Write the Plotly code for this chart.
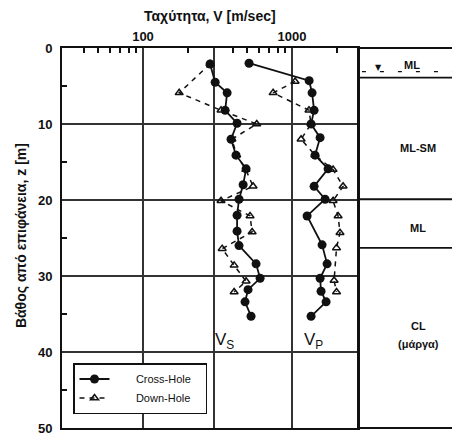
import plotly.graph_objects as go

# ---- data ----
vs_cross_depth = [2.1, 4.5, 5.9, 8.2, 9.9, 12.0, 14.1, 15.9, 18.0, 19.9, 22.0, 24.1, 26.0, 28.4, 30.3, 31.8, 33.4, 35.3]
vs_cross_vel = [282, 305, 367, 356, 428, 390, 421, 492, 470, 441, 428, 428, 441, 574, 611, 507, 484, 531]

vs_down_depth = [2.1, 5.9, 8.2, 10.0, 12.0, 14.1, 16.0, 18.2, 20.1, 22.1, 24.2, 26.4, 28.6, 30.7, 32.1]
vs_down_vel = [282, 175, 334, 580, 395, 425, 490, 548, 334, 523, 540, 340, 409, 492, 409]

vp_cross_depth = [2.0, 4.3, 5.9, 8.2, 10.0, 11.8, 14.1, 15.9, 18.2, 19.9, 22.1, 25.9, 28.4, 30.3, 32.0, 33.4, 35.3]
vp_cross_vel = [515, 1303, 1364, 1407, 1343, 1544, 1428, 1747, 1407, 1668, 1263, 1592, 1720, 1544, 1567, 1694, 1343]

vp_down_depth = [4.4, 5.9, 8.2, 10.0, 12.0, 14.1, 16.0, 18.2, 20.1, 22.1, 24.3, 26.3, 30.6, 32.1]
vp_down_vel = [1049, 747, 1300, 1343, 1151, 1428, 1887, 2202, 1887, 2039, 2100, 1990, 1917, 1990]

x_tick_vals = [100, 300, 1000]
x_tick_text = ["100", " ", "1000"]
x_minor_vals = [40, 50, 60, 70, 80, 90, 200, 400, 500, 600, 700, 800, 900, 2000]
y_tick_vals = [0, 10, 20, 30, 40, 50]
y_minor_vals = [5, 15, 25, 35, 45]

layer_bounds = [3.9, 19.9, 26.3]
water_table = 3.1
layer_labels = [("ML-SM", 13.2), ("ML", 23.7), ("CL", 36.6), ("(μάργα)", 38.9)]

FONT = "Liberation Sans"
BLACK = "#111111"
XDOM = (358 - 62) / 393
PAD = "\u00a0" * 7
TAIL = "\u00a0" * 3

fig = go.Figure()

cross_style = dict(mode="lines+markers", line=dict(color=BLACK, width=1.8),
                   marker=dict(symbol="circle", size=9, color=BLACK))
down_style = dict(mode="lines+markers", line=dict(color=BLACK, width=1.5, dash="5px,5px"),
                  marker=dict(symbol="triangle-up-open", size=7, color=BLACK, line=dict(width=1.5, color=BLACK)))

fig.add_trace(go.Scatter(x=vs_cross_vel, y=vs_cross_depth, name=PAD + "Cross-Hole" + TAIL, **cross_style))
fig.add_trace(go.Scatter(x=vs_down_vel, y=vs_down_depth, name=PAD + "Down-Hole" + TAIL, **down_style))
fig.add_trace(go.Scatter(x=vp_cross_vel, y=vp_cross_depth, name="Cross-Hole", showlegend=False, **cross_style))
fig.add_trace(go.Scatter(x=vp_down_vel, y=vp_down_depth, name="Down-Hole", showlegend=False, **down_style))

# page body has an 8px default margin, so the figure is placed at (8, 8)
fig.update_layout(
    width=452, height=426,
    margin=dict(l=54, r=5, t=40, b=6, autoexpand=False),
    paper_bgcolor="white", plot_bgcolor="white",
    font=dict(family=FONT, color=BLACK, size=11),
    showlegend=True,
    legend=dict(x=0.028, y=0.171, xanchor="left", yanchor="top",
                bordercolor=BLACK, borderwidth=1.5, bgcolor="white",
                font=dict(size=11, family=FONT), tracegroupgap=4),
    xaxis=dict(type="log", domain=[0, XDOM], range=[1.4564, 3.443], side="top",
               automargin=False,
               tickmode="array", tickvals=x_tick_vals, ticktext=x_tick_text,
               ticks="", showgrid=True, gridcolor="#333333", gridwidth=1.5,
               showline=True, linecolor=BLACK, linewidth=2, mirror=True,
               tickfont=dict(size=13, family=FONT, weight="bold"),
               minor=dict(tickmode="array", tickvals=x_minor_vals, ticks="inside",
                          ticklen=5, tickwidth=1.5, tickcolor=BLACK, showgrid=False),
               zeroline=False),
    yaxis=dict(range=[50, 0], tickmode="array", tickvals=y_tick_vals,
               automargin=False, ticklabeloverflow="allow",
               ticks="", showgrid=True, gridcolor="#333333", gridwidth=1.5,
               showline=True, linecolor=BLACK, linewidth=2, mirror=True,
               tickfont=dict(size=13, family=FONT, weight="bold"),
               ticklabelstandoff=5,
               minor=dict(tickmode="array", tickvals=y_minor_vals, ticks="inside",
                          ticklen=5, tickwidth=1.5, tickcolor=BLACK, showgrid=False),
               zeroline=False),
)

shapes = [dict(type="rect", xref="paper", yref="paper", x0=XDOM, x1=1, y0=0, y1=1,
               line=dict(color=BLACK, width=2))]
for d in layer_bounds:
    shapes.append(dict(type="line", xref="paper", yref="y", x0=XDOM, x1=1, y0=d, y1=d,
                       line=dict(color=BLACK, width=1.8)))
shapes.append(dict(type="line", xref="paper", yref="y", x0=XDOM + 0.01, x1=1.01,
                   y0=water_table, y1=water_table, line=dict(color=BLACK, width=1.2, dash="4px,14px")))
fig.update_layout(shapes=shapes)

ann = []
soil_x = (418 - 62) / 393
ann.append(dict(xref="paper", yref="y", x=(378 - 62) / 393, y=2.5, text="▼", showarrow=False,
                xanchor="center", font=dict(size=8, family="DejaVu Sans")))
ann.append(dict(xref="paper", yref="y", x=(412 - 62) / 393, y=2.2, text="ML", showarrow=False,
                xanchor="center", font=dict(size=11, family=FONT, weight="bold")))
for txt, d in layer_labels:
    ann.append(dict(xref="paper", yref="y", x=soil_x, y=d, text=txt, showarrow=False,
                    xanchor="center", font=dict(size=11, family=FONT, weight="bold")))
ann.append(dict(xref="paper", yref="paper", x=XDOM / 2, y=1 + 32 / 380, text="Ταχύτητα, V [m/sec]",
                showarrow=False, xanchor="center", yanchor="middle",
                font=dict(size=14, family=FONT, weight="bold")))
ann.append(dict(xref="paper", yref="paper", x=(21 - 62) / 393, y=0.505, text="Βάθος από επιφάνεια, z [m]",
                showarrow=False, textangle=-90, xanchor="center", yanchor="middle",
                font=dict(size=14, family=FONT, weight="bold")))
ann.append(dict(xref="x", yref="y", x=2.545, y=38.5, text="V<sub>S</sub>", showarrow=False,
                font=dict(size=17, family=FONT)))
ann.append(dict(xref="x", yref="y", x=3.145, y=38.5, text="V<sub>P</sub>", showarrow=False,
                font=dict(size=17, family=FONT)))
fig.update_layout(annotations=ann)

fig.write_html("out.html")
